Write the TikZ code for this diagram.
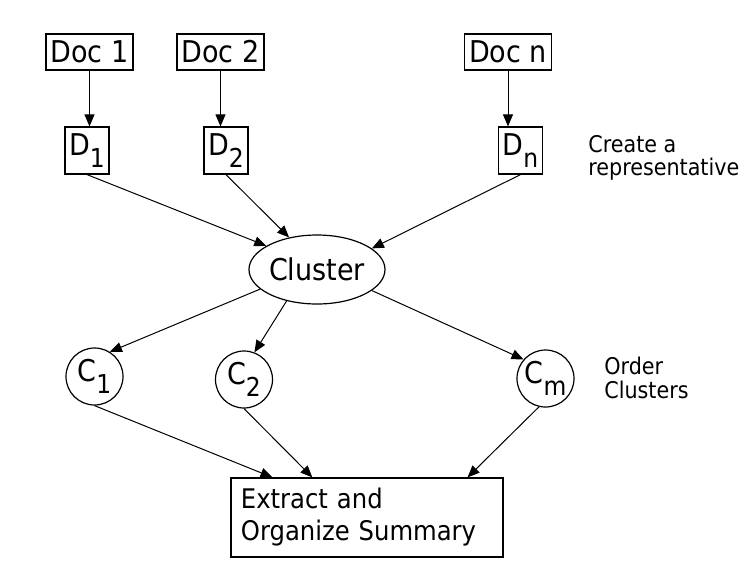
\documentclass[tikz,border=0pt]{standalone}
\usepackage{fontspec}
\setmainfont{DejaVu Sans Condensed}
\usepackage{tikz}
\usetikzlibrary{arrows.meta, positioning, calc, shapes.geometric}
\newcommand{\lowidx}[1]{\raisebox{-6pt}{\fontsize{13}{13}\selectfont #1}}

\begin{document}
\begin{tikzpicture}[
    x=0.5pt, y=-0.5pt,
    >={Triangle[length=6pt, width=5pt]},
    docbox/.style={draw, line width=0.6pt, minimum width=43.5pt, minimum height=18pt, inner sep=1pt, font=\fontsize{15}{18}\selectfont},
    repbox/.style={draw, line width=0.6pt, minimum width=22pt, minimum height=23.5pt, inner sep=1pt, font=\fontsize{15}{18}\selectfont},
    grouping/.style={draw, ellipse, line width=0.6pt, minimum width=68pt, minimum height=34.5pt, inner sep=0pt, font=\fontsize{15}{18}\selectfont},
    clus/.style={draw, circle, line width=0.6pt, minimum size=28.5pt, inner sep=0pt, font=\fontsize{15}{18}\selectfont},
    sumbox/.style={draw, line width=0.6pt, minimum height=39.5pt, text width=126pt, inner xsep=5pt, align=left, font=\fontsize{13.5}{16}\selectfont},
    note/.style={anchor=north west, inner sep=0pt, align=left, font=\fontsize{11.5}{11.7}\selectfont},
    arrow/.style={->, line width=0.5pt},
]
    \useasboundingbox (0,0) rectangle (752,570);

    \node[docbox] (doc1) at (89.5, 52) {Doc 1};
    \node[docbox] (doc2) at (220.5, 52) {Doc 2};
    \node[docbox] (docn) at (508, 52) {Doc n};

    \node[repbox] (d1) at (87, 150.5) {D\lowidx{1}};
    \node[repbox] (d2) at (226, 150.5) {D\lowidx{2}};
    \node[repbox] (dn) at (520.5, 150.5) {D\lowidx{n}};
    \node[note] (repnote) at (588, 135) {Create a\\representative};

    \node[grouping] (cluster) at (317, 269.5) {Cluster};

    \node[clus] (c1) at (94.5, 376.5) {C\lowidx{1}};
    \node[clus] (c2) at (244, 379.5) {C\lowidx{2}};
    \node[clus] (cm) at (545.5, 378.5) {C\lowidx{m}};
    \node[note] (ordernote) at (604, 357) {Order\\Clusters};

    \node[sumbox] (summary) at (367, 517.5) {Extract and\\Organize Summary};

    \draw[arrow] (doc1.south) -- (doc1.south |- d1.north);
    \draw[arrow] (doc2.south) -- (doc2.south |- d2.north);
    \draw[arrow] (docn.south) -- (docn.south |- dn.north);

    \draw[arrow] (d1.south) -- (cluster.155);
    \draw[arrow] (d2.south) -- (cluster.131);
    \draw[arrow] (dn.south) -- (cluster.21);

    \draw[arrow] (cluster.199) -- (c1.58);
    \draw[arrow] (cluster.226) -- (c2.69);
    \draw[arrow] (cluster.339) -- (cm.139);

    \draw[arrow] (c1.south) -- ($(summary.north west)!0.154!(summary.north east)$);
    \draw[arrow] (c2.south) -- ($(summary.north west)!0.30!(summary.north east)$);
    \draw[arrow] (cm.257) -- ($(summary.north west)!0.868!(summary.north east)$);
\end{tikzpicture}
\end{document}
